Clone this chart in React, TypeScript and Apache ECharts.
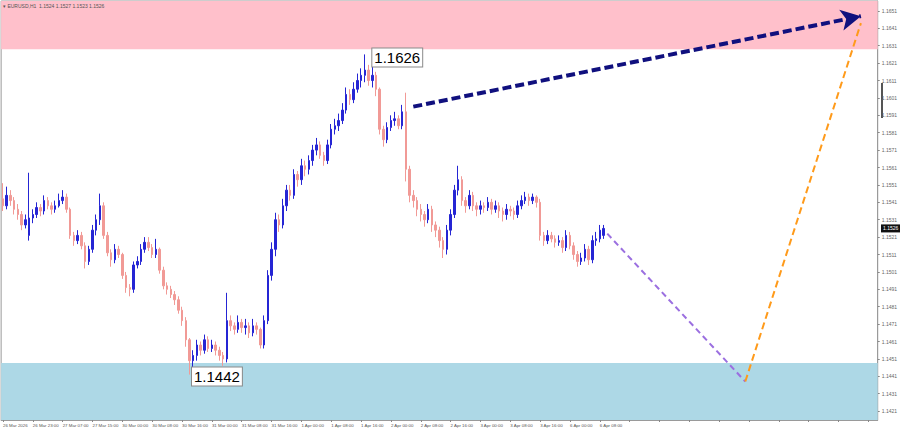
import React, { useEffect, useRef } from "react";
import * as echarts from "echarts";

// [open, close, low, high]
const candles: number[][] = [
  [1.1543, 1.1539, 1.1536, 1.1552],
  [1.1539, 1.1545, 1.1537, 1.1550],
  [1.1545, 1.1542, 1.1539, 1.1548],
  [1.1542, 1.1537, 1.1534, 1.1544],
  [1.1537, 1.1534, 1.1531, 1.1540],
  [1.1534, 1.1528, 1.1525, 1.1536],
  [1.1528, 1.1531, 1.1526, 1.1534],
  [1.1522, 1.1532, 1.1519, 1.1558],
  [1.1532, 1.1534, 1.1529, 1.1537],
  [1.1534, 1.1538, 1.1532, 1.1541],
  [1.1538, 1.1536, 1.1533, 1.1540],
  [1.1536, 1.1542, 1.1534, 1.1545],
  [1.1542, 1.1539, 1.1537, 1.1544],
  [1.1539, 1.1537, 1.1534, 1.1541],
  [1.1537, 1.1539, 1.1535, 1.1542],
  [1.1539, 1.1542, 1.1538, 1.1546],
  [1.1542, 1.1544, 1.1540, 1.1548],
  [1.1544, 1.1537, 1.1535, 1.1546],
  [1.1537, 1.1522, 1.1520, 1.1538],
  [1.1522, 1.1519, 1.1516, 1.1524],
  [1.1519, 1.1522, 1.1517, 1.1525],
  [1.1522, 1.1516, 1.1514, 1.1524],
  [1.1516, 1.1507, 1.1503, 1.1518],
  [1.1507, 1.1514, 1.1505, 1.1516],
  [1.1514, 1.1525, 1.1512, 1.1528],
  [1.1525, 1.1531, 1.1522, 1.1534],
  [1.1531, 1.1539, 1.1528, 1.1546],
  [1.1539, 1.1522, 1.1520, 1.1541],
  [1.1522, 1.1512, 1.1510, 1.1524],
  [1.1512, 1.1508, 1.1504, 1.1514],
  [1.1508, 1.1514, 1.1506, 1.1517],
  [1.1514, 1.1511, 1.1509, 1.1516],
  [1.1511, 1.1499, 1.1497, 1.1512],
  [1.1499, 1.1492, 1.1489, 1.1501],
  [1.1492, 1.1491, 1.1487, 1.1494],
  [1.1491, 1.1505, 1.1489, 1.1507],
  [1.1505, 1.1507, 1.1503, 1.1510],
  [1.1507, 1.1514, 1.1505, 1.1517],
  [1.1514, 1.1518, 1.1512, 1.1521],
  [1.1518, 1.1515, 1.1513, 1.1521],
  [1.1515, 1.1511, 1.1509, 1.1517],
  [1.1511, 1.1514, 1.1509, 1.1520],
  [1.1514, 1.1502, 1.1500, 1.1515],
  [1.1502, 1.1493, 1.1491, 1.1504],
  [1.1493, 1.1491, 1.1488, 1.1495],
  [1.1491, 1.1488, 1.1486, 1.1493],
  [1.1488, 1.1485, 1.1482, 1.1490],
  [1.1485, 1.1479, 1.1477, 1.1487],
  [1.1479, 1.1473, 1.1470, 1.1481],
  [1.1473, 1.1462, 1.1458, 1.1475],
  [1.1462, 1.1450, 1.1442, 1.1463],
  [1.1450, 1.1453, 1.1443, 1.1456],
  [1.1453, 1.1459, 1.1450, 1.1462],
  [1.1459, 1.1456, 1.1453, 1.1461],
  [1.1456, 1.1462, 1.1454, 1.1465],
  [1.1462, 1.1457, 1.1455, 1.1464],
  [1.1457, 1.1459, 1.1455, 1.1462],
  [1.1459, 1.1456, 1.1453, 1.1461],
  [1.1456, 1.1453, 1.1450, 1.1458],
  [1.1453, 1.1451, 1.1447, 1.1455],
  [1.1451, 1.1473, 1.1449, 1.1489],
  [1.1473, 1.1470, 1.1467, 1.1476],
  [1.1470, 1.1468, 1.1465, 1.1472],
  [1.1468, 1.1472, 1.1466, 1.1476],
  [1.1472, 1.1469, 1.1466, 1.1474],
  [1.1469, 1.1470, 1.1465, 1.1474],
  [1.1470, 1.1466, 1.1463, 1.1472],
  [1.1466, 1.1470, 1.1464, 1.1474],
  [1.1470, 1.1468, 1.1465, 1.1472],
  [1.1468, 1.1459, 1.1457, 1.1469],
  [1.1459, 1.1473, 1.1457, 1.1476],
  [1.1473, 1.1499, 1.1471, 1.1502],
  [1.1499, 1.1514, 1.1496, 1.1518],
  [1.1514, 1.1531, 1.1510, 1.1535],
  [1.1531, 1.1528, 1.1524, 1.1534],
  [1.1528, 1.1539, 1.1526, 1.1543],
  [1.1539, 1.1548, 1.1536, 1.1551],
  [1.1548, 1.1545, 1.1542, 1.1551],
  [1.1545, 1.1557, 1.1543, 1.1560],
  [1.1557, 1.1554, 1.1550, 1.1559],
  [1.1554, 1.1562, 1.1551, 1.1566],
  [1.1562, 1.1560, 1.1556, 1.1565],
  [1.1560, 1.1565, 1.1557, 1.1568],
  [1.1565, 1.1571, 1.1562, 1.1574],
  [1.1571, 1.1574, 1.1568, 1.1578],
  [1.1574, 1.1568, 1.1566, 1.1576],
  [1.1568, 1.1565, 1.1562, 1.1570],
  [1.1565, 1.1574, 1.1563, 1.1577],
  [1.1574, 1.1583, 1.1572, 1.1586],
  [1.1583, 1.1585, 1.1580, 1.1589],
  [1.1585, 1.1588, 1.1582, 1.1592],
  [1.1588, 1.1594, 1.1586, 1.1598],
  [1.1594, 1.1603, 1.1592, 1.1607],
  [1.1603, 1.1600, 1.1597, 1.1606],
  [1.1600, 1.1606, 1.1598, 1.1610],
  [1.1606, 1.1611, 1.1604, 1.1615],
  [1.1611, 1.1614, 1.1607, 1.1618],
  [1.1614, 1.1617, 1.1610, 1.1626],
  [1.1617, 1.1611, 1.1608, 1.1620],
  [1.1611, 1.1614, 1.1607, 1.1619],
  [1.1614, 1.1606, 1.1602, 1.1616],
  [1.1606, 1.1583, 1.1580, 1.1607],
  [1.1583, 1.1577, 1.1573, 1.1585],
  [1.1577, 1.1584, 1.1575, 1.1587],
  [1.1584, 1.1588, 1.1582, 1.1591],
  [1.1588, 1.1589, 1.1585, 1.1593],
  [1.1589, 1.1585, 1.1583, 1.1591],
  [1.1585, 1.1593, 1.1583, 1.1597],
  [1.1593, 1.1560, 1.1553, 1.1604],
  [1.1560, 1.1545, 1.1541, 1.1562],
  [1.1545, 1.1542, 1.1538, 1.1548],
  [1.1542, 1.1537, 1.1533, 1.1544],
  [1.1537, 1.1534, 1.1530, 1.1540],
  [1.1534, 1.1531, 1.1527, 1.1536],
  [1.1531, 1.1537, 1.1529, 1.1540],
  [1.1537, 1.1528, 1.1524, 1.1539],
  [1.1528, 1.1525, 1.1521, 1.1530],
  [1.1525, 1.1519, 1.1515, 1.1527],
  [1.1519, 1.1514, 1.1509, 1.1521],
  [1.1514, 1.1525, 1.1511, 1.1528],
  [1.1525, 1.1534, 1.1522, 1.1537],
  [1.1534, 1.1548, 1.1532, 1.1551],
  [1.1548, 1.1554, 1.1545, 1.1562],
  [1.1554, 1.1542, 1.1539, 1.1556],
  [1.1542, 1.1539, 1.1535, 1.1544],
  [1.1539, 1.1545, 1.1537, 1.1548],
  [1.1545, 1.1539, 1.1536, 1.1547],
  [1.1539, 1.1537, 1.1533, 1.1541],
  [1.1537, 1.1539, 1.1534, 1.1542],
  [1.1539, 1.1538, 1.1535, 1.1541],
  [1.1538, 1.1541, 1.1536, 1.1544],
  [1.1541, 1.1537, 1.1534, 1.1543],
  [1.1537, 1.1539, 1.1535, 1.1542],
  [1.1539, 1.1536, 1.1532, 1.1541],
  [1.1536, 1.1534, 1.1530, 1.1538],
  [1.1534, 1.1537, 1.1531, 1.1540],
  [1.1537, 1.1536, 1.1533, 1.1539],
  [1.1536, 1.1534, 1.1531, 1.1538],
  [1.1534, 1.1539, 1.1532, 1.1542],
  [1.1539, 1.1542, 1.1537, 1.1545],
  [1.1542, 1.1544, 1.1540, 1.1547],
  [1.1544, 1.1542, 1.1539, 1.1546],
  [1.1542, 1.1544, 1.1540, 1.1546],
  [1.1544, 1.1541, 1.1538, 1.1545],
  [1.1541, 1.1522, 1.1519, 1.1543],
  [1.1522, 1.1519, 1.1516, 1.1524],
  [1.1519, 1.1522, 1.1517, 1.1525],
  [1.1522, 1.1520, 1.1518, 1.1524],
  [1.1520, 1.1518, 1.1515, 1.1522],
  [1.1518, 1.1519, 1.1516, 1.1522],
  [1.1519, 1.1515, 1.1512, 1.1521],
  [1.1515, 1.1522, 1.1513, 1.1525],
  [1.1522, 1.1516, 1.1514, 1.1524],
  [1.1516, 1.1511, 1.1508, 1.1518],
  [1.1511, 1.1507, 1.1504, 1.1513],
  [1.1507, 1.1509, 1.1505, 1.1512],
  [1.1509, 1.1514, 1.1507, 1.1517],
  [1.1514, 1.1508, 1.1505, 1.1516],
  [1.1508, 1.1519, 1.1506, 1.1522],
  [1.1519, 1.1520, 1.1516, 1.1524],
  [1.1520, 1.1525, 1.1518, 1.1528],
  [1.1522, 1.1526, 1.1520, 1.1528],
];

const totalSlots = 235;
const slotNames: string[] = Array.from({ length: totalSlots }, (_, i) => String(i));

const timeLabels = [
  "26 Mar 2026", "26 Mar 23:00", "27 Mar 07:00", "27 Mar 15:00", "30 Mar 00:00",
  "30 Mar 08:00", "30 Mar 16:00", "31 Mar 00:00", "31 Mar 08:00", "31 Mar 16:00",
  "1 Apr 00:00", "1 Apr 08:00", "1 Apr 16:00", "2 Apr 00:00", "2 Apr 08:00",
  "2 Apr 16:00", "3 Apr 00:00", "3 Apr 08:00", "3 Apr 16:00", "6 Apr 00:00", "6 Apr 08:00",
];
const labelEvery = 8;

const priceTicks = [
  1.1651, 1.1641, 1.1631, 1.1621, 1.1611, 1.1601, 1.1591, 1.1581, 1.1571, 1.1561,
  1.1551, 1.1541, 1.1531, 1.1521, 1.1511, 1.1501, 1.1491, 1.1481, 1.1471, 1.1461,
  1.1451, 1.1441, 1.1431, 1.1421,
];
const yRange = [1.14159, 1.16567];

const resistanceZone = [1.1629, 1.16567];
const supportZone = [1.14159, 1.14487];

const highMark = { index: 97, price: 1.1626 };
const lowMark = { index: 50, price: 1.1442 };

const blueArrow = [[110, 1.1596], [230, 1.1648]];
const purpleLeg = [[162, 1.1523], [199, 1.1438]];
const orangeLeg = [[199, 1.1438], [230, 1.1644]];

const currentPrice = 1.1526;
const headerText = "EURUSD,H1  1.1524 1.1527 1.1523 1.1526";

const FONT = "Liberation Sans, Arial, sans-serif";

export default function App() {
  const ref = useRef<HTMLDivElement>(null);
  useEffect(() => {
    if (!ref.current) return;
    const chart = echarts.init(ref.current, null, { renderer: "svg" });
    const option: any = {
      animation: false,
      backgroundColor: "#ffffff",
      grid: {
        left: 0, top: 1, right: 20, bottom: 11,
        show: true, borderColor: "#9a9a9a", borderWidth: 1,
      },
      xAxis: {
        type: "category",
        data: slotNames,
        boundaryGap: true,
        axisLine: { lineStyle: { color: "#9a9a9a", width: 1 } },
        axisTick: { show: true, interval: labelEvery - 1, alignWithLabel: true, length: 2, lineStyle: { color: "#888" } },
        axisLabel: {
          interval: labelEvery - 1,
          align: "left",
          margin: 3,
          fontSize: 4.4,
          color: "#555",
          fontFamily: FONT,
          formatter: (_v: string, idx: number) => {
            const k = idx / labelEvery;
            return timeLabels[k] !== undefined ? timeLabels[k] : "";
          },
        },
        splitLine: { show: false },
      },
      yAxis: {
        type: "value",
        position: "right",
        min: yRange[0],
        max: yRange[1],
        scale: true,
        axisLine: { show: true, lineStyle: { color: "#9a9a9a", width: 1 } },
        axisTick: { show: true, customValues: priceTicks, length: 2, inside: false, lineStyle: { color: "#888" } },
        axisLabel: {
          customValues: priceTicks,
          fontSize: 5,
          color: "#666",
          margin: 4,
          fontFamily: FONT,
          formatter: (v: number) => v.toFixed(4),
        },
        splitLine: { show: false },
      },
      series: [
        {
          type: "candlestick",
          data: candles,
          barWidth: 2,
          itemStyle: {
            color: "#2525d4",
            color0: "#f19a96",
            borderColor: "#2525d4",
            borderColor0: "#f19a96",
            borderWidth: 1,
          },
          markArea: {
            silent: true,
            itemStyle: { opacity: 1 },
            data: [
              [
                { yAxis: resistanceZone[0], itemStyle: { color: "#ffc0cb" } },
                { yAxis: resistanceZone[1] },
              ],
              [
                { yAxis: supportZone[0], itemStyle: { color: "#add8e6" } },
                { yAxis: supportZone[1] },
              ],
            ],
          },
          markLine: {
            silent: true,
            symbol: ["none", "none"],
            label: { show: false },
            data: [
              [
                { coord: blueArrow[0], symbol: "none", lineStyle: { color: "#10107e", width: 4, type: [9, 4] } },
                { coord: blueArrow[1], symbol: "arrow", symbolSize: [16, 20] },
              ],
              [
                { coord: purpleLeg[0], symbol: "none", lineStyle: { color: "#9b6fe0", width: 2, type: [6, 4] } },
                { coord: purpleLeg[1], symbol: "none" },
              ],
              [
                { coord: orangeLeg[0], symbol: "none", lineStyle: { color: "#ff9a1a", width: 2, type: [7, 4] } },
                { coord: orangeLeg[1], symbol: "none" },
              ],
            ],
          },
          markPoint: {
            silent: true,
            symbol: "rect",
            symbolSize: [1, 1],
            itemStyle: { color: "rgba(0,0,0,0)" },
            label: {
              show: true,
              position: "right",
              fontSize: 15,
              color: "#000",
              fontFamily: FONT,
              backgroundColor: "#ffffff",
              borderColor: "#8a8a8a",
              borderWidth: 1,
              padding: [2, 2, 1, 2],
            },
            data: [
              {
                coord: [highMark.index, highMark.price],
                label: { formatter: highMark.price.toFixed(4), distance: 7, offset: [0, 3] },
              },
              {
                coord: [lowMark.index, lowMark.price],
                label: { formatter: lowMark.price.toFixed(4), distance: 2, offset: [0, 2] },
              },
            ],
          },
        },
      ],
    };
    chart.setOption(option);

    const py = chart.convertToPixel({ yAxisIndex: 0 }, currentPrice) as number;
    const barTop = chart.convertToPixel({ yAxisIndex: 0 }, 1.16096) as number;
    const barBot = chart.convertToPixel({ yAxisIndex: 0 }, 1.15894) as number;
    chart.setOption({
      graphic: [
        {
          type: "text",
          x: 3,
          y: 3,
          z: 100,
          style: { text: "▾ " + headerText, fontSize: 5, fill: "#555", fontFamily: FONT },
        },
        {
          type: "rect",
          shape: { x: 881, y: barTop, width: 2, height: barBot - barTop },
          style: { fill: "#555" },
        },
        {
          type: "rect",
          shape: { x: 881, y: py - 4, width: 19, height: 8 },
          style: { fill: "#111" },
        },
        {
          type: "text",
          x: 883,
          y: py - 3,
          style: { text: currentPrice.toFixed(4), fontSize: 5, fill: "#fff", fontFamily: FONT },
        },
      ],
    });
    return () => chart.dispose();
  }, []);
  return (
    <div
      ref={ref}
      style={{ position: "fixed", left: 0, top: 0, width: 900, height: 431, background: "#fff" }}
    />
  );
}
